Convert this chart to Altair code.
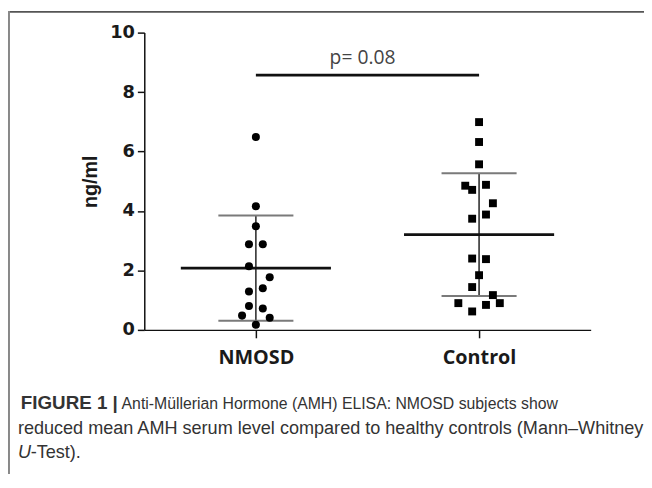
import altair as alt
import pandas as pd

# ---- data ----
categories = ["NMOSD", "Control"]
nmosd_values = [6.49, 4.16, 3.49, 2.88, 2.88, 2.14, 1.77, 1.40, 1.29, 0.80, 0.72, 0.48, 0.41, 0.17]
nmosd_slots = [0, 0, 0, -1, 1, -1, 2, 1, -1, -1, 1, -2, 2, 0]
control_values = [6.99, 6.32, 5.57, 4.85, 4.71, 4.88, 4.26, 3.88, 3.74, 2.40, 2.38,
                  1.84, 1.44, 1.17, 0.90, 0.90, 0.84, 0.62]
control_slots = [0, 0, 0, -2, -1, 1, 2, 1, -1, -1, 1, 0, -1, 2, -3, 3, 1, -1]
y_ticks = [0, 2, 4, 6, 8, 10]
p_label = "p= 0.08"
p_bar_level = 8.57

caption_bold = "FIGURE 1 |"
caption_line1 = "Anti-Müllerian Hormone (AMH) ELISA: NMOSD subjects show"
caption_line2 = "reduced mean AMH serum level compared to healthy controls (Mann–Whitney"
caption_u = "U"
caption_line3 = "-Test)."

df = pd.DataFrame({
    "group": [categories[0]] * len(nmosd_values) + [categories[1]] * len(control_values),
    "value": nmosd_values + control_values,
    "slot": nmosd_slots + control_slots,
})

W, H = 452, 301
JITTER = 7.0 / (W / 2.0)   # one point-width in x data units
pos_expr = "datum.group == 'NMOSD' ? 0.5 : 1.5"

xscale = alt.Scale(domain=[0, 2], nice=False, zero=False)
yscale = alt.Scale(domain=[0, 10], nice=False, zero=True)

x_axis = alt.Axis(values=[0.5, 1.5], labelExpr="datum.value < 1 ? 'NMOSD' : 'Control'",
                  title=None, grid=False, domainColor="#111", domainWidth=1.5,
                  tickColor="#111", tickWidth=1.5, tickSize=8,
                  labelFont="Open Sans", labelFontWeight="bold", labelFontSize=20,
                  labelColor="#1a1a1a", labelPadding=10)
y_axis = alt.Axis(values=y_ticks, title="ng/ml", grid=False, domainColor="#111", domainWidth=1.5,
                  tickColor="#111", tickWidth=1.5, tickSize=7,
                  labelFont="DejaVu Sans", labelFontWeight="bold", labelFontSize=18,
                  labelColor="#1a1a1a", labelPadding=3,
                  titleFont="Liberation Sans", titleFontWeight="bold", titleFontSize=20,
                  titleColor="#1a1a1a", titlePadding=9)

base = alt.Chart(df)

points = base.transform_calculate(
    pos=pos_expr
).transform_calculate(
    xj=f"datum.pos + datum.slot * {JITTER}"
).mark_point(filled=True, opacity=1, color="black", strokeWidth=0).encode(
    x=alt.X("xj:Q", scale=xscale, axis=x_axis),
    y=alt.Y("value:Q", scale=yscale, axis=y_axis),
    shape=alt.Shape("group:N", scale=alt.Scale(domain=categories, range=["circle", "square"]), legend=None),
    size=alt.Size("group:N", scale=alt.Scale(domain=categories, range=[66, 64]), legend=None),
)

stats = base.transform_aggregate(
    mean="mean(value)", sd="stdev(value)", groupby=["group"]
).transform_calculate(
    pos=pos_expr, lo="datum.mean - datum.sd", hi="datum.mean + datum.sd"
)

def X(f):
    return alt.X(f, scale=xscale)

def Y(f):
    return alt.Y(f, scale=yscale)

mean_tick = stats.mark_tick(orient="horizontal", size=152, thickness=3, color="#111", opacity=1).encode(
    x=X("pos:Q"), y=Y("mean:Q"))
lo_tick = stats.mark_tick(orient="horizontal", size=76, thickness=2, color="#7a7a7a", opacity=1).encode(
    x=X("pos:Q"), y=Y("lo:Q"))
hi_tick = stats.mark_tick(orient="horizontal", size=76, thickness=2, color="#7a7a7a", opacity=1).encode(
    x=X("pos:Q"), y=Y("hi:Q"))
sd_rule = stats.mark_rule(color="#222", strokeWidth=1.5).encode(
    x=X("pos:Q"), y=Y("lo:Q"), y2="hi:Q")

sig_df = pd.DataFrame({"a": [0.5], "b": [1.5], "mid": [1.0], "level": [p_bar_level], "label": [p_label]})
sig_bar = alt.Chart(sig_df).mark_rule(color="#111", strokeWidth=3).encode(
    x=X("a:Q"), x2="b:Q", y=Y("level:Q"))
sig_text = alt.Chart(sig_df).mark_text(font="Open Sans", fontSize=19.5, color="#444",
                                       baseline="alphabetic", dy=-11, dx=-5).encode(
    x=X("mid:Q"), y=Y("level:Q"), text="label:N")

# ---- frame and caption (layout) ----
PL, PT = 138, 22
one = pd.DataFrame({"k": [0]})
frame_top = alt.Chart(one).mark_rule(color="#555", strokeWidth=2).encode(
    x=alt.value(-PL), x2=alt.value(-PL + 644), y=alt.value(-PT + 1))
frame_left = alt.Chart(one).mark_rule(color="#888", strokeWidth=2).encode(
    x=alt.value(-PL + 1), y=alt.value(-PT), y2=alt.value(-PT + 470))

cap_font = "Liberation Sans"
cap_color = "#333"
cx = 18 - (PL + 8)

def cap(text, x, y, size=18.3, weight="normal", style="normal"):
    return alt.Chart(one).mark_text(font=cap_font, fontSize=size, color=cap_color, align="left",
                                    baseline="alphabetic", fontWeight=weight, fontStyle=style).encode(
        x=alt.value(x), y=alt.value(y), text=alt.value(text))

b1 = 411 - (PT + 8)
captions = [
    cap(caption_bold, cx + 3, b1, size=19, weight="bold"),
    cap(caption_line1, 123 - (PL + 8), b1, size=16),
    cap(caption_line2, cx, b1 + 25),
    cap(caption_u, cx, b1 + 50, style="italic"),
    cap(caption_line3, cx + 13, b1 + 50),
]

chart = alt.layer(
    frame_top, frame_left, sig_bar, sig_text, sd_rule, lo_tick, hi_tick, mean_tick, points, *captions
).properties(
    width=W, height=H,
    autosize=alt.AutoSizeParams(type="none"),
    padding={"left": PL, "top": PT, "right": 644 - PL - W, "bottom": 466 - PT - H},
    background="white",
).configure_view(strokeWidth=0)

chart.save("out.html", embed_options={"renderer": "svg", "actions": False})
